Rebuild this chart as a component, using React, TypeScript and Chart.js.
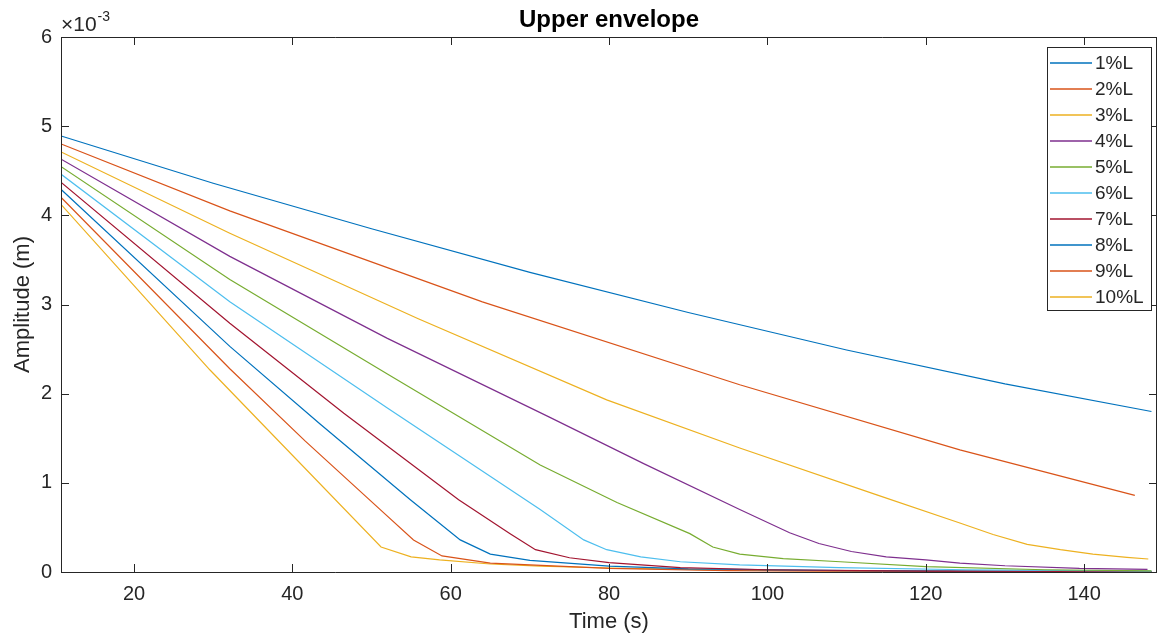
import React, { useEffect, useRef } from "react";
import { Chart, registerables } from "chart.js";
Chart.register(...registerables);

const seriesLabels = ["1%L", "2%L", "3%L", "4%L", "5%L", "6%L", "7%L", "8%L", "9%L", "10%L"];
const seriesColors = ["#0072BD", "#D95319", "#EDB120", "#7E2F8E", "#77AC30", "#4DBEEE", "#A2142F", "#0072BD", "#D95319", "#EDB120"];

// Amplitudes in units of 1e-3 m
const time1 = [10.8, 30, 50, 70, 90, 110, 130, 148.5];
const amp1 = [4.89, 4.36, 3.85, 3.36, 2.91, 2.49, 2.11, 1.8];
const time2 = [10.8, 32.1, 64, 96.5, 124.3, 146.4];
const amp2 = [4.8, 4.05, 3.03, 2.1, 1.37, 0.86];
const time3 = [10.8, 32.1, 55.9, 79.7, 96.5, 114, 124.3, 128.5, 132.8, 137, 141.1, 145.4, 148.1];
const amp3 = [4.71, 3.8, 2.84, 1.93, 1.39, 0.86, 0.55, 0.42, 0.31, 0.25, 0.2, 0.165, 0.146];
const time4 = [10.8, 32.1, 52, 72.4, 84.5, 96.5, 102.8, 106.5, 110.6, 115, 120, 124.3, 130, 139.4, 148];
const amp4 = [4.63, 3.54, 2.62, 1.74, 1.21, 0.7, 0.44, 0.32, 0.23, 0.17, 0.135, 0.1, 0.07, 0.04, 0.03];
const time5 = [10.8, 32.1, 52, 71.3, 81, 90.2, 93.1, 96.5, 102, 109.2, 120, 135, 148.5];
const amp5 = [4.545, 3.28, 2.22, 1.2, 0.78, 0.43, 0.28, 0.2, 0.15, 0.115, 0.06, 0.025, 0.012];
const time6 = [10.8, 32.1, 52, 71.3, 76.8, 79.7, 84, 89, 96.5, 109, 125, 148.5];
const amp6 = [4.46, 3.03, 1.84, 0.7, 0.36, 0.25, 0.17, 0.115, 0.08, 0.05, 0.025, 0.01];
const time7 = [10.8, 32.1, 46.5, 61, 67.5, 70.7, 75, 80, 89, 100, 120, 148.5];
const amp7 = [4.37, 2.79, 1.78, 0.81, 0.43, 0.25, 0.16, 0.105, 0.05, 0.025, 0.01, 0.005];
const time8 = [10.8, 32.1, 43.5, 54.9, 61.2, 65, 70, 80, 90, 110, 148.5];
const amp8 = [4.29, 2.53, 1.66, 0.81, 0.36, 0.2, 0.13, 0.067, 0.035, 0.015, 0.005];
const time9 = [10.8, 32.1, 41.6, 51.1, 55.3, 58.9, 65, 80, 95, 120, 148.5];
const amp9 = [4.2, 2.28, 1.47, 0.7, 0.36, 0.18, 0.1, 0.04, 0.015, 0.005, 0.002];
const time10 = [10.8, 29.6, 51.2, 55.0, 58.6, 65, 71.3, 80, 95, 120, 148.5];
const amp10 = [4.12, 2.265, 0.28, 0.17, 0.135, 0.09, 0.067, 0.045, 0.02, 0.008, 0.003];

const seriesTimes = [time1, time2, time3, time4, time5, time6, time7, time8, time9, time10];
const seriesAmps = [amp1, amp2, amp3, amp4, amp5, amp6, amp7, amp8, amp9, amp10];

const xTicks = [20, 40, 60, 80, 100, 120, 140];
const yTicks = [0, 1, 2, 3, 4, 5, 6];
const xMin = 10.78;
const xMax = 149.2;

const FONT = "'Liberation Sans', Arial, Helvetica, sans-serif";
const INK = "#262626";

const decorPlugin = {
  id: "decor",
  afterDraw(chart: any) {
    const ctx = chart.ctx as CanvasRenderingContext2D;
    const { left, right, top, bottom } = chart.chartArea;
    const xs = chart.scales.x;
    const ys = chart.scales.y;
    ctx.save();
    ctx.strokeStyle = INK;
    ctx.lineWidth = 1;
    ctx.beginPath();
    ctx.rect(Math.round(left) + 0.5, Math.round(top) + 0.5, Math.round(right - left) - 1, Math.round(bottom - top));
    ctx.stroke();
    const tl = 8;
    ctx.beginPath();
    for (const v of xTicks) {
      const px = Math.round(xs.getPixelForValue(v)) + 0.5;
      ctx.moveTo(px, bottom);
      ctx.lineTo(px, bottom - tl);
      ctx.moveTo(px, top);
      ctx.lineTo(px, top + tl);
    }
    for (const v of yTicks) {
      const py = Math.round(ys.getPixelForValue(v)) + 0.5;
      ctx.moveTo(left, py);
      ctx.lineTo(left + tl, py);
      ctx.moveTo(right, py);
      ctx.lineTo(right - tl, py);
    }
    ctx.stroke();

    // title
    ctx.font = `bold 24px ${FONT}`;
    ctx.textAlign = "center";
    ctx.textBaseline = "alphabetic";
    ctx.fillStyle = "#000";
    ctx.fillText("Upper envelope", (left + right) / 2, 27);
    ctx.fillStyle = INK;
    // exponent
    ctx.textAlign = "left";
    ctx.font = `21px ${FONT}`;
    ctx.fillText("\u00d710", 61, 31);
    const w = ctx.measureText("\u00d710").width;
    ctx.font = `14px ${FONT}`;
    ctx.fillText("-3", 62 + w, 21);
    // axis titles
    ctx.font = `22px ${FONT}`;
    ctx.textAlign = "center";
    ctx.textBaseline = "middle";
    ctx.fillText("Time (s)", (left + right) / 2, 622);
    ctx.save();
    ctx.translate(23, (top + bottom) / 2);
    ctx.rotate(-Math.PI / 2);
    ctx.fillText("Amplitude (m)", 0, 0);
    ctx.restore();

    // legend
    const lx0 = 1047, lx1 = 1151, ly0 = 47, ly1 = 310;
    ctx.fillStyle = "#fff";
    ctx.fillRect(lx0, ly0, lx1 - lx0, ly1 - ly0);
    ctx.strokeStyle = INK;
    ctx.lineWidth = 1;
    ctx.strokeRect(lx0 + 0.5, ly0 + 0.5, lx1 - lx0, ly1 - ly0);
    ctx.font = `19px ${FONT}`;
    ctx.textAlign = "left";
    ctx.textBaseline = "middle";
    seriesLabels.forEach((lab, i) => {
      const y = 63 + i * 26;
      ctx.strokeStyle = seriesColors[i];
      ctx.lineWidth = 1.3;
      ctx.beginPath();
      ctx.moveTo(1050, y);
      ctx.lineTo(1092, y);
      ctx.stroke();
      ctx.fillStyle = INK;
      ctx.fillText(lab, 1095, y + 1);
    });
    ctx.restore();
  },
};

export default function App() {
  const ref = useRef<HTMLCanvasElement>(null);
  useEffect(() => {
    document.body.style.margin = "0";
    const datasets = seriesTimes.map((ts, i) => ({
      label: seriesLabels[i],
      data: ts.map((t, j) => ({ x: t, y: seriesAmps[i][j] })),
      borderColor: seriesColors[i],
      backgroundColor: seriesColors[i],
      borderWidth: 1.2,
      pointRadius: 0,
      fill: false,
      tension: 0,
    }));
    const chart = new Chart(ref.current as HTMLCanvasElement, {
      type: "line",
      data: { datasets },
      options: {
        responsive: false,
        animation: false,
        layout: { padding: { top: 37, right: 1, left: 0, bottom: 0 } },
        plugins: { legend: { display: false }, title: { display: false }, tooltip: { enabled: false } },
        scales: {
          x: {
            type: "linear",
            min: xMin,
            max: xMax,
            afterBuildTicks: (s: any) => {
              s.ticks = xTicks.map((v) => ({ value: v }));
            },
            afterFit: (s: any) => {
              s.height = 69;
            },
            grid: { display: false, drawTicks: false },
            border: { display: false },
            ticks: { font: { family: FONT, size: 20 }, color: INK, padding: 10, maxRotation: 0, autoSkip: false },
          },
          y: {
            type: "linear",
            min: 0,
            max: 6,
            afterBuildTicks: (s: any) => {
              s.ticks = yTicks.map((v) => ({ value: v }));
            },
            afterFit: (s: any) => {
              s.width = 61;
            },
            grid: { display: false, drawTicks: false },
            border: { display: false },
            ticks: { font: { family: FONT, size: 20 }, color: INK, padding: 9 },
          },
        },
      } as any,
      plugins: [decorPlugin],
    });
    return () => chart.destroy();
  }, []);
  return (
    <div style={{ width: 1158, height: 641 }}>
      <canvas ref={ref} width={1158} height={641} style={{ display: "block" }} />
    </div>
  );
}
